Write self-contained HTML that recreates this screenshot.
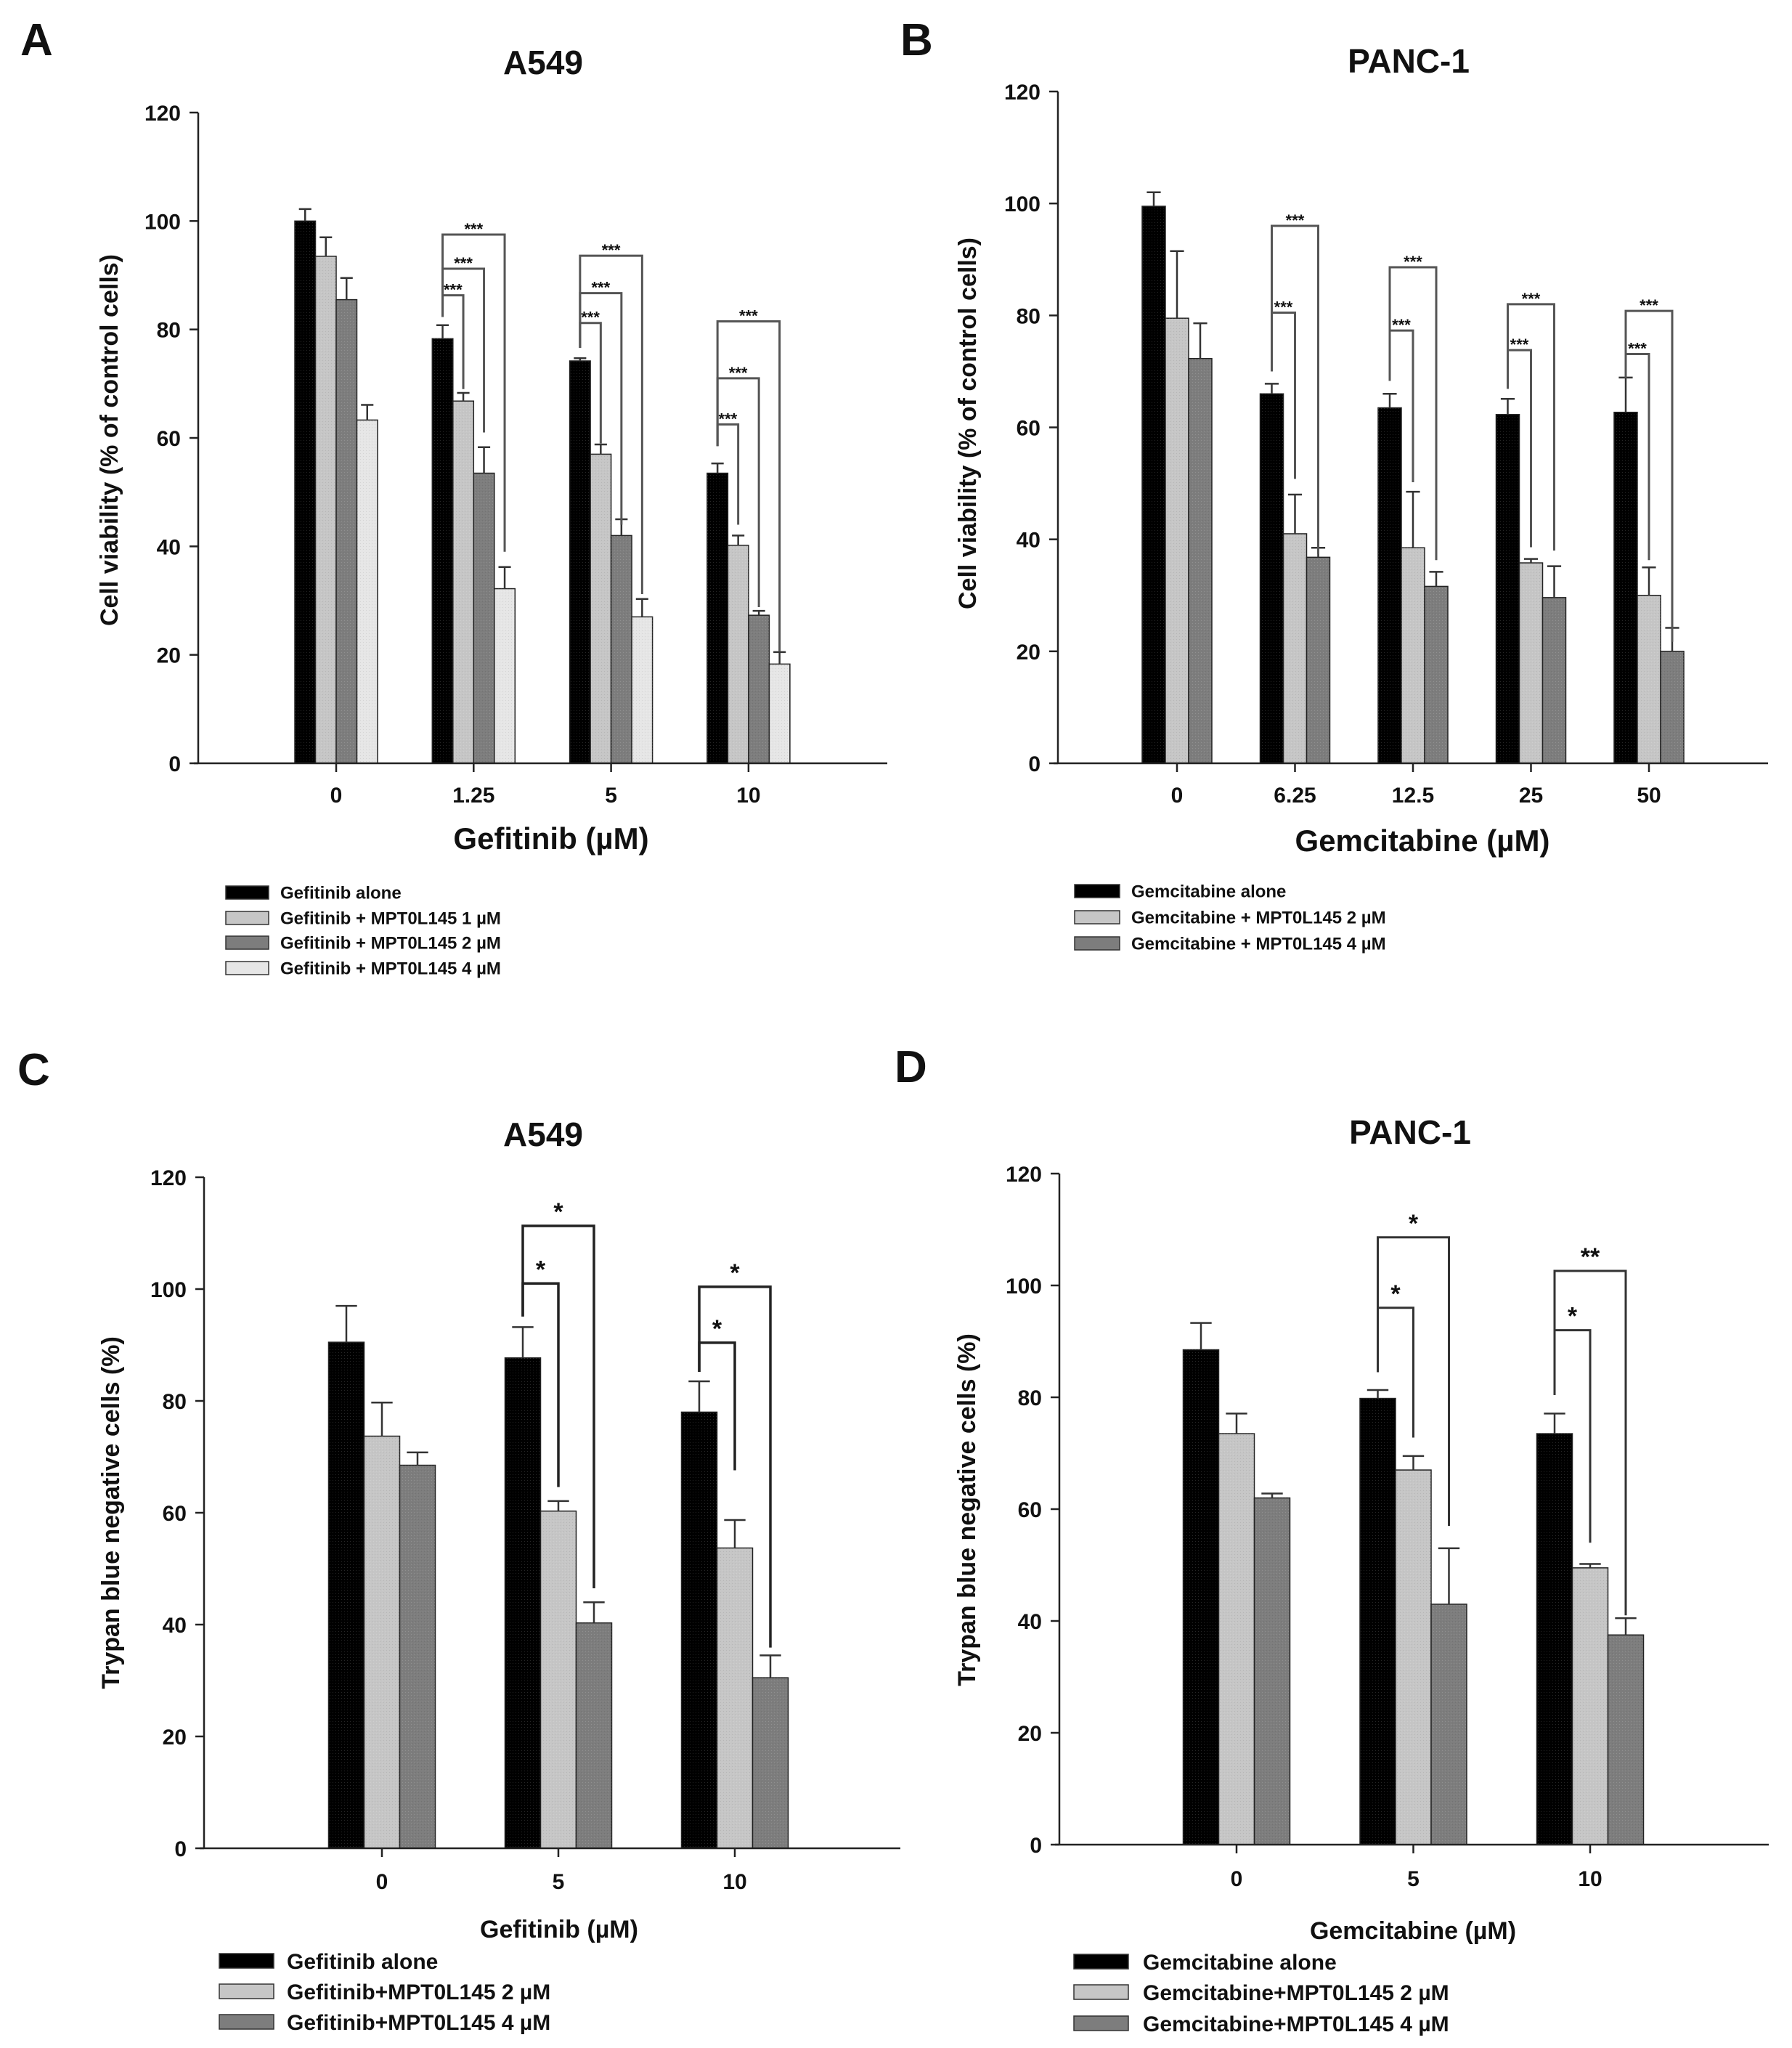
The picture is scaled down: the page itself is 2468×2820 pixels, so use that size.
<!DOCTYPE html>
<html><head><meta charset="utf-8"><style>
html,body{margin:0;padding:0;background:#fff}
svg{display:block}
text{font-family:"Liberation Sans",Arial,sans-serif;font-weight:bold;fill:#111}
</style></head><body>
<svg id="fig" width="2468" height="2820" viewBox="0 0 2468 2820" xmlns="http://www.w3.org/2000/svg">
<defs>
<pattern id="tex" width="4" height="4" patternUnits="userSpaceOnUse"><rect width="4" height="4" fill="none"/><rect x="0" y="0" width="1" height="1" fill="rgba(0,0,0,0.08)"/><rect x="2" y="2" width="1" height="1" fill="rgba(255,255,255,0.15)"/></pattern>
</defs>
</svg>
<script>
// ---- Panel A data ----
const aCats = ["0","1.25","5","10"];
const aAlone = [100,78.3,74.2,53.5];
const aAloneErr = [2.2,2.5,0.5,1.8];
const aM1 = [93.5,66.8,57,40.2];
const aM1Err = [3.5,1.5,1.8,1.8];
const aM2 = [85.5,53.5,42,27.3];
const aM2Err = [4,4.8,3,0.8];
const aM4 = [63.3,32.2,27,18.3];
const aM4Err = [2.8,4,3.3,2.2];
const aTicks = [0,20,40,60,80,100,120];
const aLegend = ["Gefitinib alone","Gefitinib + MPT0L145 1 \u00b5M","Gefitinib + MPT0L145 2 \u00b5M","Gefitinib + MPT0L145 4 \u00b5M"];
// brackets: [category index, target series index, top value, start value, end value, label]
const aBrackets = [[1,1,86.3,82.3,69,"***"],[1,2,91.2,82.3,61,"***"],[1,3,97.5,82.3,39,"***"],
 [2,1,81.2,76.6,59,"***"],[2,2,86.7,76.6,44,"***"],[2,3,93.6,76.6,31.2,"***"],
 [3,1,62.5,58.5,44,"***"],[3,2,71,58.5,28.8,"***"],[3,3,81.5,58.5,20.6,"***"]];
// ---- Panel B data ----
const bCats = ["0","6.25","12.5","25","50"];
const bAlone = [99.5,66,63.5,62.3,62.7];
const bAloneErr = [2.5,1.8,2.5,2.8,6.2];
const bM2 = [79.5,41,38.5,35.8,30];
const bM2Err = [12,7,10,0.7,5];
const bM4 = [72.3,36.8,31.6,29.6,20];
const bM4Err = [6.3,1.7,2.6,5.6,4.2];
const bLegend = ["Gemcitabine alone","Gemcitabine + MPT0L145   2 \u00b5M","Gemcitabine + MPT0L145   4 \u00b5M"];
const bBrackets = [[1,1,80.5,70,50.8,"***"],[1,2,96,70,37.4,"***"],
 [2,1,77.3,68.3,50.2,"***"],[2,2,88.6,68.3,36.3,"***"],
 [3,1,73.8,66.9,38.6,"***"],[3,2,82,66.9,38,"***"],
 [4,1,73.1,68.8,36.3,"***"],[4,2,80.8,68.8,21.7,"***"]];
// ---- Panel C data ----
const cCats = ["0","5","10"];
const cAlone = [90.5,87.7,78];
const cAloneErr = [6.5,5.5,5.5];
const cM2 = [73.7,60.3,53.7];
const cM2Err = [6,1.8,5];
const cM4 = [68.5,40.3,30.5];
const cM4Err = [2.3,3.7,4];
const cLegend = ["Gefitinib alone","Gefitinib+MPT0L145 2 \u00b5M","Gefitinib+MPT0L145 4 \u00b5M"];
const cBrackets = [[1,1,101,95.1,64.6,"*"],[1,2,111.3,95.1,46.5,"*"],[2,1,90.4,85.2,67.6,"*"],[2,2,100.4,85.2,35.9,"*"]];
// ---- Panel D data ----
const dCats = ["0","5","10"];
const dAlone = [88.5,79.8,73.5];
const dAloneErr = [4.8,1.5,3.6];
const dM2 = [73.5,67,49.5];
const dM2Err = [3.6,2.5,0.7];
const dM4 = [62,43,37.5];
const dM4Err = [0.8,10,3];
const dLegend = ["Gemcitabine alone","Gemcitabine+MPT0L145 2 \u00b5M","Gemcitabine+MPT0L145 4 \u00b5M"];
const dBrackets = [[1,1,96,84.5,72.8,"*"],[1,2,108.6,84.5,57,"*"],[2,1,92,80.4,54,"*"],[2,2,102.6,80.4,41,"**"]];

const svg = document.getElementById('fig');
const NS = "http://www.w3.org/2000/svg";
function mk(tag, attrs, parent){const e=document.createElementNS(NS,tag);for(const k in attrs)e.setAttribute(k,attrs[k]);(parent||svg).appendChild(e);return e;}
function txt(s, attrs, parent){const e=mk('text',attrs,parent);e.textContent=s;return e;}

function panel(cfg){
  const g = mk('g',{});
  
  
  const yScale = v => cfg.y0 - v*(cfg.y0-cfg.y120)/120;
  const xCat = i => cfg.c0 + i*cfg.step;
  const n = cfg.series.length;
  const xBar = (i,s) => xCat(i) - n*cfg.bw/2 + s*cfg.bw;
  const L = txt(cfg.letter,{x:cfg.lx,y:cfg.ly,'font-size':62,'font-weight':'900'},g);
  
  
  const T = txt(cfg.title,{x:cfg.tx,y:cfg.ty,'font-size':46,'text-anchor':'middle'},g);
  
  
  cfg.series.forEach((ser,s)=>{
    ser.vals.forEach((v,i)=>{
      const x=xBar(i,s), y=yScale(v);
      const r=mk('rect',{x:x,y:y,width:cfg.bw,height:cfg.y0-y,fill:cfg.colors[s],stroke:'#222','stroke-width':1.5},g);
      
      
      mk('rect',{x:x,y:y,width:cfg.bw,height:cfg.y0-y,fill:'url(#tex)'},g);
      const cx=x+cfg.bw/2, ye=yScale(v+ser.err[i]);
      const eb=mk('path',{d:`M${cx},${y} V${ye} M${cx-cfg.bw*0.3},${ye} H${cx+cfg.bw*0.3}`,stroke:'#333','stroke-width':2.5,fill:'none'},g);
      
      
    });
  });
  cfg.brackets.forEach(b=>{
    const [ci,si,top,st,en,lab]=b;
    const x1=xBar(ci,0)+cfg.bw/2, x2=xBar(ci,si)+cfg.bw/2;
    const yt=yScale(top);
    const p=mk('path',{d:`M${x1},${yScale(st)} V${yt} H${x2} V${yScale(en)}`,stroke:cfg.bcol,'stroke-width':cfg.bsw,fill:'none'},g);
    
    
    const t=txt(lab,{x:(x1+x2)/2,y:yt+cfg.starDy,'font-size':cfg.starFs,'text-anchor':'middle',fill:'#333'},g);
    
    
  });
  const ax=mk('path',{d:`M${cfg.ax},${cfg.y120} V${cfg.y0} M${cfg.ax-6},${cfg.y0} H${cfg.axEnd}`,stroke:'#222','stroke-width':2.5,fill:'none'},g);
  
  
  aTicks.forEach(t=>{
    const y=yScale(t);
    mk('line',{x1:cfg.ax-12,y1:y,x2:cfg.ax,y2:y,stroke:'#222','stroke-width':2.5},g);
    const tl=txt(String(t),{x:cfg.ax-24,y:y+11,'font-size':30,'text-anchor':'end'},g);
    
    
  });
  cfg.cats.forEach((c,i)=>{
    mk('line',{x1:xCat(i),y1:cfg.y0,x2:xCat(i),y2:cfg.y0+12,stroke:'#222','stroke-width':2.5},g);
    const cl=txt(c,{x:xCat(i),y:cfg.catY,'font-size':30,'text-anchor':'middle'},g);
    
    
  });
  const yl=txt(cfg.ylabel,{x:0,y:0,'font-size':34,'text-anchor':'middle',transform:`translate(${cfg.ylx},${cfg.yly}) rotate(-90)`},g);
  
  
  const xl=txt(cfg.xlabel,{x:cfg.xlx,y:cfg.xly,'font-size':cfg.xfs,'text-anchor':'middle'},g);
  
  
  cfg.legend.forEach((l,s)=>{
    const y=cfg.legY[s];
    const lg=mk('g',{},g);
    
    
    mk('rect',{x:cfg.legX,y:y-cfg.legH/2,width:cfg.legW,height:cfg.legH,fill:cfg.colors[s],stroke:'#333','stroke-width':1.5},lg);
    txt(l,{x:cfg.legTX,y:y+cfg.legFs*0.36,'font-size':cfg.legFs},lg);
  });
}
const c3=['#000','#c6c6c6','#7d7d7d'];
panel({name:'panel-a',letter:'A',lx:28,ly:76,title:'A549',tx:748,ty:102,
 ax:273,axEnd:1222,y0:1051,y120:155,c0:463,step:189.3,bw:28.5,cats:aCats,
 series:[{vals:aAlone,err:aAloneErr},{vals:aM1,err:aM1Err},{vals:aM2,err:aM2Err},{vals:aM4,err:aM4Err}],
 colors:['#000','#c6c6c6','#7d7d7d','#e6e6e6'],brackets:aBrackets,bcol:'#555',bsw:3,starFs:22,starDy:0,
 catY:1105,ylabel:'Cell viability (% of control cells)',ylx:162,yly:606,xlabel:'Gefitinib (\u00b5M)',xlx:759,xly:1169,xfs:42,
 legend:aLegend,legY:[1229,1264,1298,1333],legX:311,legW:59,legH:18,legTX:386,legFs:24});
panel({name:'panel-b',letter:'B',lx:1240,ly:76,title:'PANC-1',tx:1940,ty:100,
 ax:1457,axEnd:2435,y0:1051,y120:126,c0:1621,step:162.5,bw:32,cats:bCats,
 series:[{vals:bAlone,err:bAloneErr},{vals:bM2,err:bM2Err},{vals:bM4,err:bM4Err}],
 colors:c3,brackets:bBrackets,bcol:'#555',bsw:3,starFs:22,starDy:0,
 catY:1105,ylabel:'Cell viability (% of control cells)',ylx:1344,yly:583,xlabel:'Gemcitabine (\u00b5M)',xlx:1959,xly:1172,xfs:42,
 legend:bLegend,legY:[1227,1263,1299],legX:1480,legW:62,legH:18,legTX:1558,legFs:24});
panel({name:'panel-c',letter:'C',lx:24,ly:1494,title:'A549',tx:748,ty:1578,
 ax:281,axEnd:1240,y0:2545,y120:1621,c0:526,step:243,bw:49,cats:cCats,
 series:[{vals:cAlone,err:cAloneErr},{vals:cM2,err:cM2Err},{vals:cM4,err:cM4Err}],
 colors:c3,brackets:cBrackets,bcol:'#222',bsw:3.5,starFs:34,starDy:-8,
 catY:2601,ylabel:'Trypan blue negative cells (%)',ylx:164,yly:2083,xlabel:'Gefitinib (\u00b5M)',xlx:770,xly:2668,xfs:34,
 legend:cLegend,legY:[2700,2742,2784],legX:302,legW:75,legH:20,legTX:395,legFs:30});
panel({name:'panel-d',letter:'D',lx:1232,ly:1490,title:'PANC-1',tx:1942,ty:1575,
 ax:1459,axEnd:2436,y0:2540,y120:1616,c0:1703,step:243.5,bw:49,cats:dCats,
 series:[{vals:dAlone,err:dAloneErr},{vals:dM2,err:dM2Err},{vals:dM4,err:dM4Err}],
 colors:c3,brackets:dBrackets,bcol:'#333',bsw:3,starFs:34,starDy:-8,
 catY:2597,ylabel:'Trypan blue negative cells (%)',ylx:1343,yly:2079,xlabel:'Gemcitabine (\u00b5M)',xlx:1946,xly:2670,xfs:34,
 legend:dLegend,legY:[2701,2743,2786],legX:1479,legW:75,legH:20,legTX:1574,legFs:30});
</script>
</body></html>
